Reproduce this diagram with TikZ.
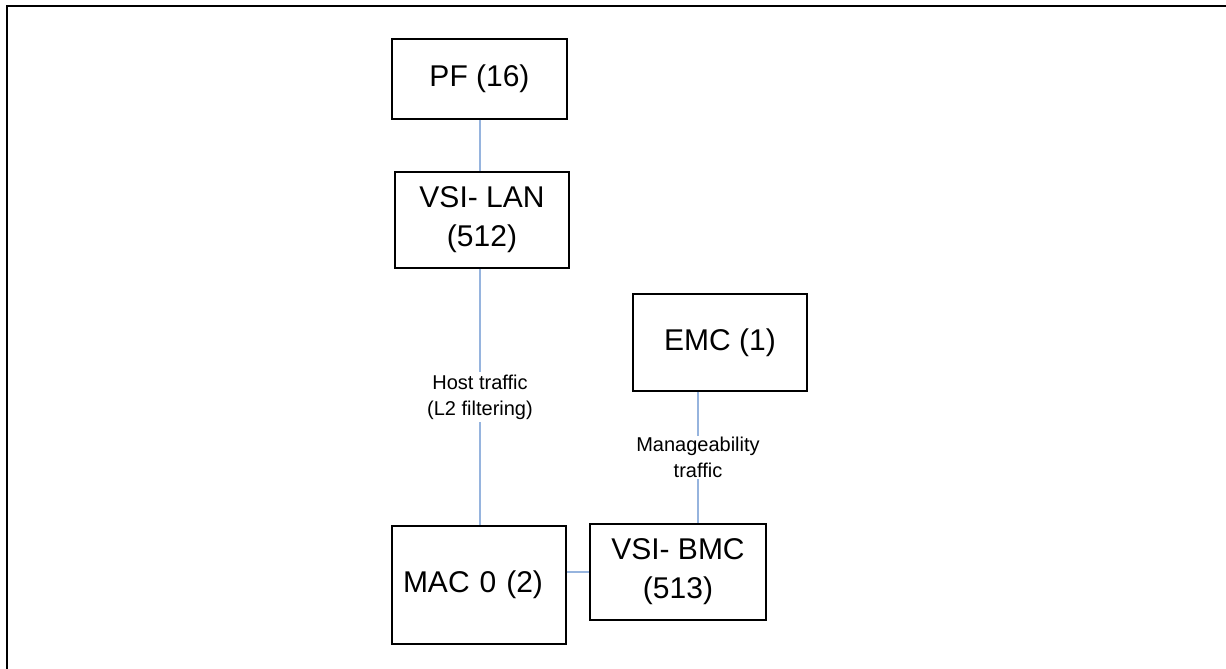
\documentclass[tikz,border=0pt]{standalone}
\usepackage{fontspec}
\setmainfont{Liberation Sans}
\definecolor{linkblue}{RGB}{150,180,222}
\begin{document}
\begin{tikzpicture}[x=1pt,y=-1pt,
  blk/.style={draw=black, line width=1.5pt, fill=white, inner sep=0pt, align=center,
    font=\fontsize{30}{39}\selectfont},
  lnk/.style={draw=linkblue, line width=1.3pt},
  lbl/.style={fill=white, inner sep=3pt, align=center, font=\fontsize{20}{26}\selectfont}]
\useasboundingbox (0,0) rectangle (1226,669);
\draw[line width=2.6pt] (7,669) -- (7,6) -- (1226,6);
\node[blk, minimum width=175pt, minimum height=80pt] (pf) at (479.5,79) {PF (16)};
\node[blk, minimum width=174pt, minimum height=96pt] (lan) at (482,220) {VSI- LAN\\(512)};
\node[blk, minimum width=174pt, minimum height=118pt, text width=152pt, align=left, inner xsep=11pt] (mac) at (479,585) {MAC 0 (2)};
\node[blk, minimum width=174pt, minimum height=97pt] (emc) at (720,342.5) {EMC (1)};
\node[blk, minimum width=176pt, minimum height=96pt] (bmc) at (678,572) {VSI- BMC\\(513)};
\coordinate (cl) at (480,0);
\coordinate (cr) at (698,0);
\draw[lnk] (pf.south -| cl) -- (lan.north -| cl);
\draw[lnk] (lan.south -| cl) -- (mac.north -| cl)
  node[lbl, midway] (hostlbl) {Host traffic\\(L2 filtering)};
\draw[lnk] (emc.south -| cr) -- (bmc.north -| cr)
  node[lbl, midway, inner sep=1pt] (mgmtlbl) {Manageability\\traffic};
\draw[lnk] (mac.east |- bmc.west) -- (bmc.west);
\end{tikzpicture}
\end{document}
